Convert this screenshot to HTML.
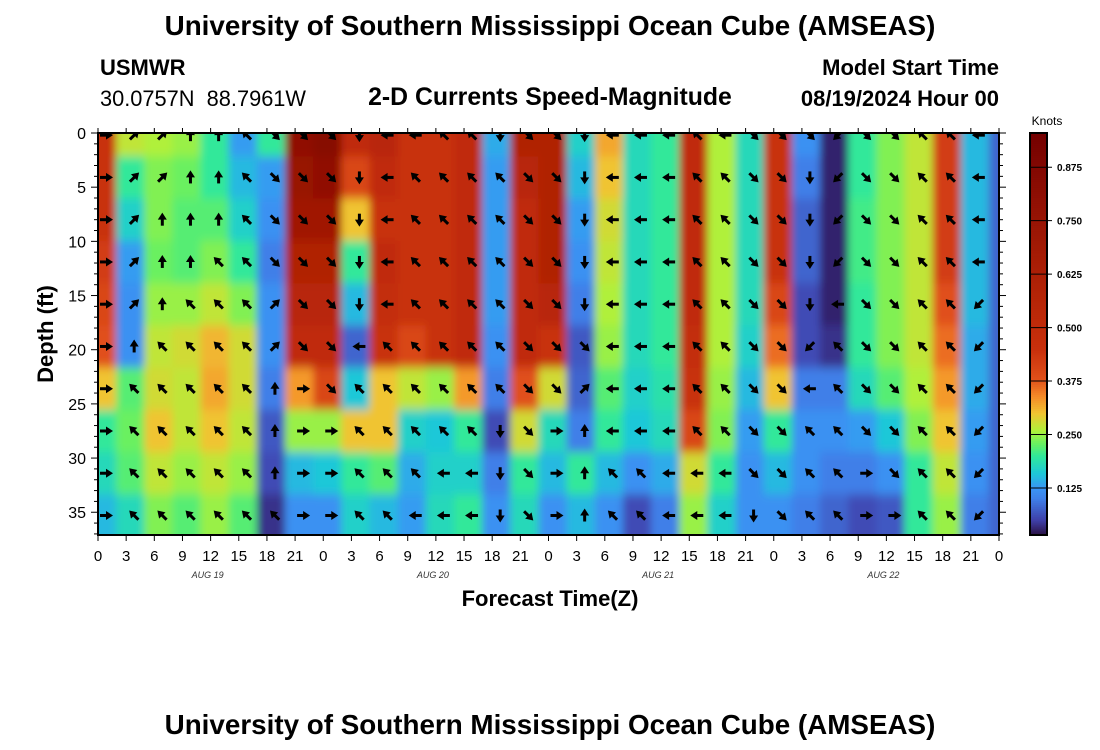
<!DOCTYPE html>
<html><head><meta charset="utf-8">
<style>
body{margin:0;background:#fff;width:1100px;height:750px;overflow:hidden;font-family:"Liberation Sans",Arial,sans-serif}
svg{display:block}
text{font-family:"Liberation Sans",Arial,sans-serif}
</style></head>
<body>
<svg id="chart" width="1100" height="750" viewBox="0 0 1100 750" xmlns="http://www.w3.org/2000/svg">
<defs>
<clipPath id="plotclip"><rect x="98" y="133" width="901" height="402"/></clipPath>
<filter id="soft" x="0" y="0" width="1" height="1"><feGaussianBlur stdDeviation="4 5" edgeMode="duplicate"/></filter>
</defs>
<text x="550" y="35" text-anchor="middle" font-size="27.8" font-weight="bold">University of Southern Mississippi Ocean Cube (AMSEAS)</text>
<text x="100" y="75" font-size="22" font-weight="bold">USMWR</text>
<text x="100" y="106" font-size="21.8" xml:space="preserve">30.0757N  88.7961W</text>
<text x="550" y="105" text-anchor="middle" font-size="24.8" font-weight="bold">2-D Currents Speed-Magnitude</text>
<text x="999" y="75" text-anchor="end" font-size="22" font-weight="bold">Model Start Time</text>
<text x="999" y="106" text-anchor="end" font-size="22" font-weight="bold">08/19/2024 Hour 00</text>
<g id="heat" clip-path="url(#plotclip)"><g id="cells" filter="url(#soft)"></g></g>
<g id="arrows" clip-path="url(#plotclip)"></g>
<rect x="98" y="133" width="901" height="402" fill="none" stroke="#000" stroke-width="2"/>
<g id="axes"></g>
<text transform="translate(53,334) rotate(-90)" text-anchor="middle" font-size="22" font-weight="bold">Depth (ft)</text>
<text x="550" y="606" text-anchor="middle" font-size="22" font-weight="bold">Forecast Time(Z)</text>
<g id="cbar"></g>
<text x="1047" y="125" text-anchor="middle" font-size="12">Knots</text>
<text x="550" y="734" text-anchor="middle" font-size="27.8" font-weight="bold">University of Southern Mississippi Ocean Cube (AMSEAS)</text>
</svg>
<script>
const hours=[0,3,6,9,12,15,18,21,24,27,30,33,36,39,42,45,48,51,54,57,60,63,66,69,72,75,78,81,84,87,90,93,96];
const depths=[0.2,4.1,8.0,11.9,15.8,19.7,23.6,27.5,31.4,35.3];
const speeds=[
[0.45,0.45,0.45,0.42,0.40,0.38,0.30,0.20,0.18,0.15],
[0.27,0.20,0.17,0.13,0.12,0.12,0.22,0.23,0.22,0.18],
[0.26,0.24,0.24,0.23,0.25,0.27,0.28,0.30,0.27,0.24],
[0.25,0.23,0.22,0.22,0.25,0.28,0.27,0.27,0.25,0.22],
[0.20,0.20,0.22,0.24,0.27,0.31,0.32,0.30,0.27,0.25],
[0.13,0.15,0.17,0.20,0.24,0.28,0.28,0.27,0.25,0.22],
[0.20,0.13,0.12,0.10,0.12,0.12,0.10,0.07,0.06,0.04],
[0.80,0.75,0.70,0.60,0.55,0.50,0.33,0.25,0.15,0.12],
[0.85,0.80,0.70,0.60,0.55,0.50,0.40,0.25,0.16,0.12],
[0.50,0.40,0.30,0.20,0.15,0.08,0.16,0.30,0.20,0.17],
[0.55,0.50,0.45,0.50,0.48,0.45,0.30,0.30,0.22,0.15],
[0.45,0.45,0.45,0.45,0.45,0.40,0.27,0.17,0.14,0.13],
[0.45,0.45,0.45,0.45,0.45,0.45,0.25,0.16,0.17,0.18],
[0.50,0.50,0.50,0.50,0.50,0.50,0.33,0.20,0.17,0.20],
[0.14,0.13,0.13,0.13,0.13,0.12,0.10,0.06,0.10,0.12],
[0.60,0.55,0.50,0.50,0.50,0.50,0.38,0.28,0.20,0.18],
[0.60,0.60,0.60,0.60,0.55,0.45,0.28,0.18,0.15,0.12],
[0.17,0.15,0.13,0.12,0.10,0.07,0.08,0.10,0.20,0.15],
[0.32,0.30,0.28,0.27,0.26,0.25,0.22,0.20,0.15,0.12],
[0.18,0.18,0.18,0.18,0.18,0.18,0.17,0.16,0.12,0.06],
[0.20,0.20,0.20,0.20,0.20,0.20,0.19,0.18,0.14,0.10],
[0.50,0.50,0.50,0.50,0.50,0.48,0.45,0.40,0.28,0.25],
[0.26,0.26,0.26,0.26,0.26,0.26,0.25,0.24,0.20,0.17],
[0.18,0.18,0.18,0.18,0.18,0.17,0.15,0.13,0.12,0.12],
[0.45,0.45,0.45,0.45,0.40,0.36,0.30,0.20,0.15,0.12],
[0.12,0.10,0.08,0.08,0.06,0.06,0.10,0.12,0.12,0.10],
[0.03,0.03,0.03,0.03,0.03,0.04,0.10,0.12,0.10,0.08],
[0.20,0.20,0.21,0.21,0.20,0.20,0.18,0.13,0.10,0.06],
[0.24,0.24,0.24,0.24,0.24,0.24,0.22,0.16,0.12,0.07],
[0.27,0.27,0.27,0.27,0.27,0.27,0.26,0.24,0.20,0.20],
[0.42,0.42,0.42,0.42,0.38,0.36,0.33,0.30,0.27,0.25],
[0.15,0.15,0.15,0.15,0.15,0.14,0.14,0.13,0.12,0.10],
[0.08,0.08,0.08,0.08,0.08,0.08,0.08,0.08,0.08,0.08]
];
const directions=[
"E E E E E E E E E E",
"NE NE NE NE NE N NW NW NW NW",
"NE NE N N N NW NW NW NW NW",
"N N N N NW NW NW NW NW NW",
"N N N NW NW NW NW NW NW NW",
"NW NW NW NW NW NW NW NW NW NW",
"SE SE SE SE NE NE N N N NW",
"SE SE SE SE SE SE E E E E",
"SE SE SE SE SE SE SE E E E",
"S S S S S W NW NW NW NW",
"W W W W W NW NW NW NW NW",
"W NW NW NW NW NW NW NW NW W",
"NW NW NW NW NW NW NW NW W W",
"NW NW NW NW NW NW NW NW W W",
"S NW NW NW NW NW NW S S S",
"SE SE SE SE SE SE SE SE SE SE",
"SE SE SE SE SE SE SE E E E",
"S S S S S SE NE N N N",
"W W W W W W W W NW NW",
"W W W W W W W W NW NW",
"W W W W W W W W W W",
"NW NW NW NW NW NW NW NW W W",
"W NW NW NW NW NW NW NW W W",
"SE SE SE SE SE SE SE SE SE S",
"SE SE SE SE SE SE SE SE SE SE",
"SE S S S S SW W NW NW NW",
"SW SW SW SW W NW NW NW NW NW",
"SE SE SE SE SE SE SE SE E E",
"SE SE SE SE SE SE SE SE SE E",
"NW NW NW NW NW NW NW NW NW NW",
"NW NW NW NW NW NW NW NW NW NW",
"W W W W SW SW SW SW SW SW",
"S S S S S S S S S S"
];
const yTicks=[0,5,10,15,20,25,30,35];
const xTickLabels=["0","3","6","9","12","15","18","21","0","3","6","9","12","15","18","21","0","3","6","9","12","15","18","21","0","3","6","9","12","15","18","21","0"];
const dayLabels=["AUG 19","AUG 20","AUG 21","AUG 22"];
const cbarTicks=[0.125,0.250,0.375,0.500,0.625,0.750,0.875];

const NS="http://www.w3.org/2000/svg";
const X0=98,X1=999,Y0=133,Y1=535,HMAX=96,DMAX=37.1;
const xs=h=>X0+(h/HMAX)*(X1-X0);
const ys=d=>Y0+(d/DMAX)*(Y1-Y0);
const VMIN=0.015,VMAX=0.955;
const cy=v=>Y1-(v-VMIN)/(VMAX-VMIN)*(Y1-Y0);
const stops=[[0.015,"#2a1040"],[0.05,"#3f3fa8"],[0.1,"#3f7fe8"],[0.125,"#3a95f5"],[0.16,"#1ec8d8"],[0.2,"#30e89a"],[0.23,"#6af060"],[0.26,"#b0f03a"],[0.3,"#f0c432"],[0.34,"#f58a28"],[0.38,"#e0501a"],[0.45,"#c8300c"],[0.6,"#b02206"],[0.8,"#901004"],[0.955,"#740000"]];
function hex(c){return [1,3,5].map(i=>parseInt(c.substr(i,2),16));}
function cmap(v){
  if(v<=stops[0][0])return stops[0][1];
  for(let i=1;i<stops.length;i++){
    if(v<=stops[i][0]){
      const t=(v-stops[i-1][0])/(stops[i][0]-stops[i-1][0]);
      const a=hex(stops[i-1][1]),b=hex(stops[i][1]);
      return "rgb("+a.map((x,k)=>Math.round(x+(b[k]-x)*t)).join(",")+")";
    }
  }
  return stops[stops.length-1][1];
}
function mk(tag,attrs,parent){const e=document.createElementNS(NS,tag);for(const k in attrs)e.setAttribute(k,attrs[k]);parent.appendChild(e);return e;}
const cells=document.getElementById("cells");
const dh=hours[1]-hours[0],dd=depths[1]-depths[0];
hours.forEach((h,i)=>{
  depths.forEach((d,j)=>{
    const r=mk("rect",{x:xs(h-dh/2)+4,y:ys(d-dd/2),width:xs(dh)-X0+0.6,height:ys(dd)-Y0+(j===depths.length-1?20:0.6),fill:cmap(speeds[i][j])},cells);
    
    
  });
});
const dirAng={E:0,NE:45,N:90,NW:135,W:180,SW:225,S:270,SE:315};
const arrows=document.getElementById("arrows");
hours.forEach((h,i)=>{
  const ds=directions[i].split(" ");
  depths.forEach((d,j)=>{
    const a=-dirAng[ds[j]];
    const g=mk("g",{transform:"translate("+(xs(h)+8)+","+ys(d)+") rotate("+a+")"},arrows);
    
    
    mk("line",{x1:-6,y1:0,x2:2,y2:0,stroke:"#000","stroke-width":3},g);
    mk("polygon",{points:"7,0 0,-4.5 0,4.5",fill:"#000"},g);
  });
});
const axes=document.getElementById("axes");
for(let d=0;d<=37;d++){
  const y=ys(d),L=d%5===0?7:4;
  mk("line",{x1:X0-L,y1:y,x2:X0,y2:y,stroke:"#000","stroke-width":1},axes);
  mk("line",{x1:X1,y1:y,x2:X1+L,y2:y,stroke:"#000","stroke-width":1},axes);
}
yTicks.forEach(t=>{
  const e=mk("text",{x:86,y:ys(t)+6,"text-anchor":"end","font-size":16},axes);
  e.textContent=t;
  
  
});
xTickLabels.forEach((lab,i)=>{
  const h=i*3,x=xs(h);
  mk("line",{x1:x,y1:Y1,x2:x,y2:Y1+6,stroke:"#000","stroke-width":1},axes);
  mk("line",{x1:x,y1:Y0-5,x2:x,y2:Y0,stroke:"#000","stroke-width":1},axes);
  const e=mk("text",{x:x,y:561,"text-anchor":"middle","font-size":15},axes);
  e.textContent=lab;
  
  
});
dayLabels.forEach((lab,i)=>{
  const e=mk("text",{x:xs(i*24+12)-3,y:578,"text-anchor":"middle","font-size":9,"font-style":"italic","font-family":"Liberation Mono, monospace",fill:"#333"},axes);
  e.textContent=lab;
  
  
});
const cbar=document.getElementById("cbar");
for(let k=0;k<200;k++){
  const v0=VMIN+(VMAX-VMIN)*k/200,v1=VMIN+(VMAX-VMIN)*(k+1)/200;
  mk("rect",{x:1030,y:cy(v1),width:17,height:cy(v0)-cy(v1)+0.5,fill:cmap((v0+v1)/2)},cbar);
}
const cf=mk("rect",{x:1030,y:Y0,width:17,height:Y1-Y0,fill:"none",stroke:"#000","stroke-width":2},cbar);


cbarTicks.forEach(t=>{
  mk("line",{x1:1030,y1:cy(t),x2:1052,y2:cy(t),stroke:"#000","stroke-width":1},cbar);
  const e=mk("text",{x:1057,y:cy(t)+4,"font-size":10,"font-weight":"bold"},cbar);
  e.textContent=t.toFixed(3);
  
  
});
</script>
</body></html>
